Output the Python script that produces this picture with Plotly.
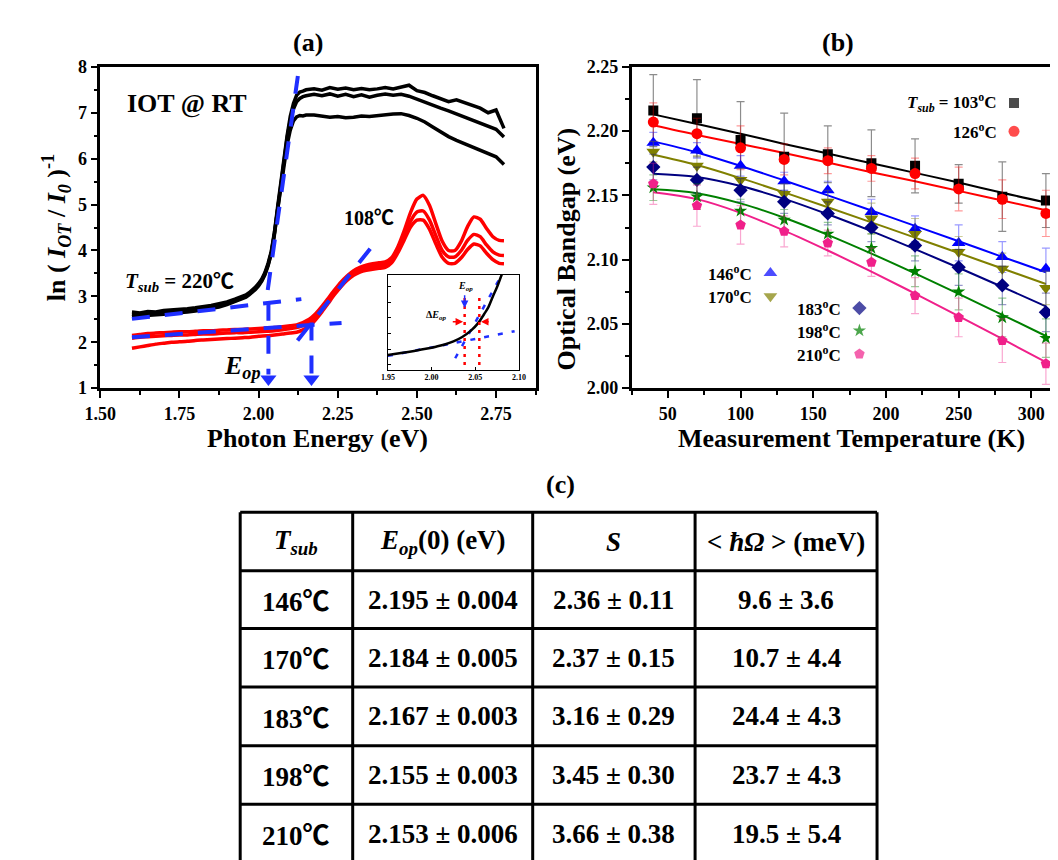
import plotly.graph_objects as go

W, H = 1058, 860
FONT = "Liberation Serif"
DEG = '<span style="font-family:Noto Sans CJK SC">℃</span>'

# ---------------- panel (a): absorbance spectra ----------------
x_black = [1.600, 1.625, 1.650, 1.675, 1.700, 1.725, 1.750, 1.775, 1.800, 1.825, 1.850, 1.875, 1.900, 1.925, 1.950,
           1.96, 1.97, 1.98, 1.99, 2.00, 2.01, 2.02, 2.03, 2.04, 2.05, 2.06, 2.07, 2.08, 2.09, 2.10, 2.11, 2.12, 2.13, 2.14, 2.15,
           2.175, 2.200, 2.225, 2.250, 2.275, 2.300, 2.325, 2.350, 2.375, 2.400, 2.425, 2.450, 2.475, 2.500, 2.525,
           2.550, 2.575, 2.600, 2.625, 2.650, 2.675, 2.700, 2.725, 2.750, 2.775]
black_top = [2.66, 2.64, 2.67, 2.66, 2.69, 2.70, 2.71, 2.73, 2.75, 2.77, 2.80, 2.84, 2.88, 2.94, 3.00,
             3.03, 3.08, 3.13, 3.20, 3.28, 3.38, 3.52, 3.72, 3.98, 4.40, 4.95, 5.50, 6.02, 6.50, 6.92, 7.20, 7.38, 7.45, 7.47, 7.50,
             7.52, 7.49, 7.55, 7.51, 7.54, 7.50, 7.53, 7.50, 7.52, 7.55, 7.52, 7.56, 7.60, 7.48, 7.44,
             7.37, 7.30, 7.24, 7.28, 7.22, 7.17, 7.10, 7.00, 7.06, 6.66]
black_mid = [2.61, 2.60, 2.62, 2.63, 2.64, 2.66, 2.68, 2.69, 2.71, 2.74, 2.77, 2.80, 2.85, 2.90, 2.97,
             3.00, 3.05, 3.10, 3.17, 3.25, 3.35, 3.49, 3.69, 3.95, 4.37, 4.92, 5.47, 5.98, 6.45, 6.84, 7.08, 7.24, 7.31, 7.35, 7.37,
             7.40, 7.37, 7.41, 7.36, 7.40, 7.35, 7.39, 7.34, 7.38, 7.41, 7.38, 7.40, 7.36, 7.29, 7.22,
             7.16, 7.10, 7.04, 6.97, 6.90, 6.83, 6.76, 6.71, 6.64, 6.47]
black_bot = [2.56, 2.57, 2.58, 2.60, 2.61, 2.63, 2.64, 2.66, 2.68, 2.71, 2.74, 2.77, 2.82, 2.88, 2.95,
             2.98, 3.03, 3.08, 3.15, 3.23, 3.33, 3.47, 3.67, 3.93, 4.34, 4.88, 5.40, 5.88, 6.30, 6.62, 6.82, 6.91, 6.94, 6.93, 6.95,
             6.95, 6.93, 6.90, 6.92, 6.89, 6.90, 6.93, 6.92, 6.94, 6.96, 6.97, 6.98, 6.94, 6.88, 6.80,
             6.69, 6.58, 6.48, 6.40, 6.33, 6.25, 6.17, 6.10, 6.04, 5.87]

x_red = [1.600, 1.625, 1.650, 1.675, 1.700, 1.725, 1.750, 1.775, 1.800, 1.825, 1.850, 1.875, 1.900, 1.925, 1.950,
         1.975, 2.000, 2.025, 2.050, 2.075, 2.100,
         2.12, 2.14, 2.16, 2.18, 2.20, 2.22, 2.24, 2.26, 2.28, 2.30, 2.32, 2.34, 2.36, 2.38, 2.40, 2.42, 2.44, 2.46,
         2.48, 2.50, 2.52, 2.54, 2.56, 2.58, 2.60, 2.62, 2.64, 2.66, 2.68, 2.70, 2.72, 2.74, 2.76, 2.775]
red_top = [2.15, 2.17, 2.19, 2.20, 2.21, 2.22, 2.23, 2.23, 2.24, 2.25, 2.25, 2.26, 2.27, 2.28, 2.28, 2.29, 2.30, 2.31, 2.32, 2.34, 2.36,
           2.38, 2.43, 2.50, 2.62, 2.78, 2.96, 3.14, 3.31, 3.45, 3.56, 3.63, 3.68, 3.71, 3.73, 3.75, 3.84, 4.08, 4.43,
           4.83, 5.12, 5.20, 4.98, 4.58, 4.20, 4.00, 4.00, 4.20, 4.52, 4.73, 4.68, 4.48, 4.30, 4.22, 4.21]
red_mid = [2.09, 2.11, 2.12, 2.13, 2.14, 2.15, 2.16, 2.16, 2.17, 2.18, 2.18, 2.19, 2.20, 2.21, 2.21, 2.22, 2.23, 2.24, 2.25, 2.27, 2.30,
           2.32, 2.37, 2.44, 2.57, 2.73, 2.91, 3.09, 3.26, 3.39, 3.50, 3.57, 3.62, 3.65, 3.67, 3.69, 3.79, 4.01, 4.31,
           4.64, 4.84, 4.86, 4.66, 4.32, 4.00, 3.86, 3.86, 4.00, 4.22, 4.35, 4.30, 4.12, 3.97, 3.90, 3.89]
red_bot = [1.87, 1.90, 1.93, 1.96, 1.98, 2.00, 2.01, 2.02, 2.04, 2.05, 2.06, 2.07, 2.08, 2.09, 2.10, 2.11, 2.13, 2.14, 2.16, 2.18, 2.20,
           2.22, 2.27, 2.35, 2.49, 2.66, 2.85, 3.04, 3.21, 3.35, 3.46, 3.53, 3.57, 3.59, 3.61, 3.63, 3.73, 3.95, 4.23,
           4.51, 4.66, 4.66, 4.46, 4.14, 3.85, 3.72, 3.72, 3.84, 4.02, 4.14, 4.10, 3.94, 3.80, 3.72, 3.71]

# tangent / arrow guides (eV, ln units)
guide_x = [[1.60, 2.135], [2.124, 2.028], [2.031, 2.031], [1.60, 2.262], [2.123, 2.355], [2.167, 2.167]]
guide_y = [[2.51, 2.94], [7.80, 3.10], [2.86, 1.30], [2.11, 2.42], [2.04, 4.06], [2.43, 1.30]]
arrow_x = [2.031, 2.167]
arrow_y = [1.20, 1.20]

# inset
inset_x = [1.950, 1.965, 1.980, 1.995, 2.005, 2.015, 2.025, 2.035, 2.045, 2.053, 2.060, 2.065, 2.070, 2.075, 2.080, 2.082]
inset_y = [1.55, 1.75, 1.97, 2.22, 2.42, 2.65, 2.98, 3.45, 4.12, 4.88, 5.85, 6.60, 7.70, 8.75, 9.97, 10.40]
inset_tan_x = [[1.950, 2.095], [2.027, 2.082]]
inset_tan_y = [[1.45, 4.05], [1.20, 10.30]]
inset_eop_x = [2.0378, 2.0546]
inset_ticks = [1.95, 2.00, 2.05, 2.10]

# ---------------- panel (b): bandgap vs temperature ----------------
T_K = [40, 70, 100, 130, 160, 190, 220, 250, 280, 310]
e103 = [2.216, 2.210, 2.193, 2.180, 2.182, 2.175, 2.173, 2.159, 2.149, 2.146]
e126 = [2.207, 2.198, 2.187, 2.178, 2.177, 2.171, 2.167, 2.155, 2.147, 2.136]
e146 = [2.191, 2.185, 2.173, 2.161, 2.154, 2.137, 2.124, 2.113, 2.102, 2.093]
e170 = [2.184, 2.173, 2.162, 2.151, 2.145, 2.132, 2.120, 2.106, 2.093, 2.078]
e183 = [2.172, 2.162, 2.154, 2.145, 2.136, 2.125, 2.111, 2.094, 2.080, 2.059]
e198 = [2.156, 2.149, 2.138, 2.131, 2.120, 2.109, 2.091, 2.075, 2.055, 2.039]
e210 = [2.159, 2.142, 2.127, 2.122, 2.113, 2.098, 2.072, 2.055, 2.037, 2.019]
err103 = [0.028, 0.030, 0.030, 0.034, 0.022, 0.026, 0.021, 0.015, 0.027, 0.021]
err126 = [0.015, 0.012, 0.017, 0.012, 0.010, 0.010, 0.012, 0.017, 0.015, 0.018]
err146 = [0.008, 0.006, 0.008, 0.007, 0.007, 0.010, 0.010, 0.014, 0.012, 0.016]
err170 = [0.008, 0.008, 0.009, 0.008, 0.009, 0.012, 0.012, 0.012, 0.012, 0.013]
err183 = [0.010, 0.010, 0.009, 0.009, 0.009, 0.011, 0.012, 0.014, 0.015, 0.015]
err198 = [0.010, 0.010, 0.009, 0.008, 0.009, 0.011, 0.012, 0.014, 0.015, 0.015]
err210 = [0.016, 0.016, 0.015, 0.012, 0.010, 0.011, 0.014, 0.015, 0.017, 0.016]
fit103 = [2.2130, 2.2055, 2.1980, 2.1900, 2.1825, 2.1750, 2.1675, 2.1600, 2.1520, 2.1445]
fit126 = [2.2045, 2.1970, 2.1900, 2.1830, 2.1755, 2.1680, 2.1610, 2.1535, 2.1460, 2.1385]
fit146 = [2.1920, 2.1834, 2.1729, 2.1616, 2.1500, 2.1382, 2.1263, 2.1143, 2.1022, 2.0902]
fit170 = [2.1816, 2.1736, 2.1634, 2.1523, 2.1408, 2.1290, 2.1171, 2.1052, 2.0931, 2.0811]
fit183 = [2.1669, 2.1643, 2.1573, 2.1473, 2.1353, 2.1222, 2.1082, 2.0937, 2.0788, 2.0637]
fit198 = [2.1548, 2.1517, 2.1438, 2.1326, 2.1193, 2.1047, 2.0893, 2.0734, 2.0571, 2.0406]
fit210 = [2.1525, 2.1471, 2.1364, 2.1226, 2.1071, 2.0907, 2.0736, 2.0561, 2.0383, 2.0202]

series_b = [
    ("103", e103, err103, fit103, "#000000", "rgba(0,0,0,0.45)", "square", 10),
    ("126", e126, err126, fit126, "#ff0000", "rgba(255,0,0,0.40)", "circle", 11),
    ("146", e146, err146, fit146, "#0000ff", "rgba(0,0,255,0.40)", "triangle-up", 12),
    ("170", e170, err170, fit170, "#808000", "rgba(128,128,0,0.40)", "triangle-down", 12),
    ("183", e183, err183, fit183, "#000080", "rgba(0,0,128,0.40)", "diamond", 11),
    ("198", e198, err198, fit198, "#008000", "rgba(0,128,0,0.40)", "star", 10),
    ("210", e210, err210, fit210, "#f0208a", "rgba(240,32,138,0.40)", "pentagon", 11),
]

# ---------------- panel (c): fit parameters ----------------
tsub_rows = ["146", "170", "183", "198", "210"]
eop0_val = [2.195, 2.184, 2.167, 2.155, 2.153]
eop0_err = [0.004, 0.005, 0.003, 0.003, 0.006]
s_val = [2.36, 2.37, 3.16, 3.45, 3.66]
s_err = [0.11, 0.15, 0.29, 0.30, 0.38]
hw_val = [9.6, 10.7, 24.4, 23.7, 19.5]
hw_err = [3.6, 4.4, 4.3, 4.3, 5.4]
table_header = ["<i>T</i><sub><i>sub</i></sub>", "<i>E</i><sub><i>op</i></sub>(0) (eV)", "<i>S</i>",
                "&lt; <i>ħΩ</i> &gt; (meV)"]
col_edges = [221, 336, 520, 686, 872]
row_edges = [506, 566, 625, 685, 745, 805, 865]


def PX(x):
    return x / W


def PY(y):
    return 1 - y / H


fig = go.Figure()

# (a) spectra
for yb in (black_top, black_mid, black_bot):
    fig.add_trace(go.Scatter(x=x_black, y=yb, mode="lines", line=dict(color="black", width=3.5),
                             xaxis="x", yaxis="y", showlegend=False, hoverinfo="skip"))
for yr in (red_top, red_mid, red_bot):
    fig.add_trace(go.Scatter(x=x_red, y=yr, mode="lines", line=dict(color="#ff0000", width=3.5, shape="spline", smoothing=0.6),
                             xaxis="x", yaxis="y", showlegend=False, hoverinfo="skip"))
BLUE = "#1f2fff"
for gx, gy in zip(guide_x, guide_y):
    fig.add_trace(go.Scatter(x=gx, y=gy, mode="lines", line=dict(color=BLUE, width=4, dash="18px,15px"),
                             xaxis="x", yaxis="y", showlegend=False, hoverinfo="skip"))
fig.add_trace(go.Scatter(x=arrow_x, y=arrow_y, mode="markers", marker=dict(symbol="triangle-down", size=14, color=BLUE),
                         xaxis="x", yaxis="y", showlegend=False, cliponaxis=False, hoverinfo="skip"))

# inset
for gx, gy in zip(inset_tan_x, inset_tan_y):
    fig.add_trace(go.Scatter(x=gx, y=gy, mode="lines", line=dict(color=BLUE, width=2.5, dash="5px,9px"),
                             xaxis="x3", yaxis="y3", showlegend=False, hoverinfo="skip"))
fig.add_trace(go.Scatter(x=inset_x, y=inset_y, mode="lines", line=dict(color="black", width=2.5, shape="spline"),
                         xaxis="x3", yaxis="y3", showlegend=False, hoverinfo="skip"))
for ex in inset_eop_x:
    fig.add_trace(go.Scatter(x=[ex, ex], y=[0.5, 8.1], mode="lines", line=dict(color="#ff0000", width=2.5, dash="3px,5px"),
                             xaxis="x3", yaxis="y3", showlegend=False, hoverinfo="skip"))

# (b) fits then points
for name, ev, er, ft, col, ecol, sym, sz in series_b:
    fig.add_trace(go.Scatter(x=T_K, y=ft, mode="lines", line=dict(color=col, width=2, shape="spline"),
                             xaxis="x2", yaxis="y2", showlegend=False, hoverinfo="skip"))
for name, ev, er, ft, col, ecol, sym, sz in series_b:
    fig.add_trace(go.Scatter(x=T_K, y=ev, mode="markers", name=name,
                             marker=dict(symbol=sym, size=sz, color=col, line=dict(width=0)),
                             error_y=dict(type="data", array=er, visible=True, color=ecol, thickness=1.2, width=4),
                             xaxis="x2", yaxis="y2", showlegend=False))

# legend keys for (b) drawn on an invisible full-page overlay axis (pixel coordinates)
key_x = [1012, 1012, 763, 763, 854, 854, 854]
key_y = [87, 116, 261, 285, 297, 320, 344]
fig.add_trace(go.Scatter(x=key_x, y=key_y, mode="markers",
                         marker=dict(symbol=[s[6] for s in series_b], size=[s[7] for s in series_b],
                                     color=[s[4] for s in series_b], line=dict(width=0)),
                         xaxis="x4", yaxis="y4", showlegend=False, hoverinfo="skip", cliponaxis=False))

tickfont = dict(family=FONT, size=18, color="black", weight="bold")
base = dict(showline=True, linecolor="black", linewidth=2.5, ticks="outside", tickcolor="black",
            tickwidth=2, ticklen=7, showgrid=False, zeroline=False, tickfont=tickfont)
minor_a_x = dict(tick0=1.5, dtick=0.125, ticks="outside", ticklen=4, tickwidth=1.5, tickcolor="black", showgrid=False)

y_dom = [PY(379), PY(50)]
layout = dict(
    width=W, height=H, margin=dict(l=0, r=0, t=0, b=0),
    paper_bgcolor="white", plot_bgcolor="rgba(0,0,0,0)",
    showlegend=False,
    xaxis=dict(base, domain=[PX(78), PX(523)], range=[1.5, 2.875], tick0=1.5, dtick=0.25, tickformat=".2f",
               mirror=True, anchor="y", minor=minor_a_x),
    yaxis=dict(base, domain=y_dom, range=[1, 8], tick0=1, dtick=1, mirror=True, anchor="x",
               minor=dict(tick0=1, dtick=0.5, ticks="outside", ticklen=4, tickwidth=1.5, tickcolor="black", showgrid=False)),
    xaxis2=dict(base, domain=[PX(621), 1.0], range=[25, 319], tick0=50, dtick=50, mirror=True, anchor="y2",
                minor=dict(tick0=25, dtick=25, ticks="outside", ticklen=4, tickwidth=1.5, tickcolor="black", showgrid=False)),
    yaxis2=dict(base, domain=y_dom, range=[2.0, 2.25], tick0=2.0, dtick=0.05, tickformat=".2f", mirror=False, anchor="x2",
                minor=dict(tick0=2.0, dtick=0.025, ticks="outside", ticklen=4, tickwidth=1.5, tickcolor="black", showgrid=False)),
    xaxis3=dict(domain=[PX(372), PX(506)], range=[1.95, 2.10], tickvals=inset_ticks,
                ticktext=["%.2f" % v for v in inset_ticks], ticks="inside", ticklen=3, tickwidth=1, tickcolor="black",
                showline=True, linecolor="black", linewidth=1, mirror=True, showgrid=False, zeroline=False,
                tickfont=dict(family=FONT, size=8, color="black", weight="bold"), anchor="y3"),
    yaxis3=dict(domain=[PY(360), PY(263)], range=[0, 10], tickvals=[0.5, 2.15, 3.8, 5.45, 7.1, 8.75],
                showticklabels=False, ticks="inside", ticklen=3, tickwidth=1, tickcolor="black",
                showline=True, linecolor="black", linewidth=1, mirror=True, showgrid=False, zeroline=False, anchor="x3"),
    xaxis4=dict(domain=[0, 1], range=[0, W], visible=False, anchor="y4"),
    yaxis4=dict(domain=[0, 1], range=[H, 0], visible=False, anchor="x4"),
)
fig.update_layout(**layout)


def ann(text, x, y, size, xanchor="center", yanchor="middle", angle=0, color="black"):
    return dict(text=text, x=PX(x), y=PY(y), xref="paper", yref="paper", showarrow=False,
                xanchor=xanchor, yanchor=yanchor, textangle=angle,
                font=dict(family=FONT, size=size, color=color, weight="bold"))


anns = [
    ann("(a)", 290, 25, 26), ann("(b)", 832, 25, 26), ann("(c)", 548, 478, 26),
    ann("Photon Energy (eV)", 300, 430, 26),
    ann("Measurement Temperature (K)", 846, 430, 26),
    ann("ln ( <i>I</i><sub><i>OT</i></sub> / <i>I</i><sub><i>0</i></sub> )<sup>-1</sup>", 33, 214, 26, angle=-90),
    ann("Optical Bandgap (eV)", 555, 236, 26, angle=-90),
    ann("IOT @ RT", 167, 88, 26),
    ann("<i>T</i><sub><i>sub</i></sub> = 220" + DEG, 101, 268, 21, xanchor="left"),
    ann("108" + DEG, 353, 203, 20),
    ann("<i>E</i><sub><i>op</i></sub>", 223, 357, 26),
    ann("<i>E</i><sub><i>op</i></sub>", 451, 275, 10),
    ann("Δ<i>E</i><sub><i>op</i></sub>", 421, 305, 10),
    ann("<i>T</i><sub><i>sub</i></sub> = 103<sup>o</sup>C", 997, 87, 17, xanchor="right"),
    ann("126<sup>o</sup>C", 997, 116, 17, xanchor="right"),
    ann("146<sup>o</sup>C", 746, 261, 17, xanchor="right"),
    ann("170<sup>o</sup>C", 746, 285, 17, xanchor="right"),
    ann("183<sup>o</sup>C", 837, 297, 17, xanchor="right"),
    ann("198<sup>o</sup>C", 837, 320, 17, xanchor="right"),
    ann("210<sup>o</sup>C", 837, 344, 17, xanchor="right"),
]
# inset arrows
for tip, tail, col in [((2.036, 5.05), (2.0225, 5.05), "#ff0000"),
                       ((2.0565, 5.05), (2.067, 5.05), "#ff0000"),
                       ((2.0378, 6.5), (2.0378, 8.0), BLUE)]:
    anns.append(dict(x=tip[0], y=tip[1], ax=tail[0], ay=tail[1], xref="x3", yref="y3", axref="x3", ayref="y3",
                     showarrow=True, arrowhead=2, arrowsize=1, arrowwidth=1.5, arrowcolor=col, text=""))

# table (c)
shapes = []
for xe in col_edges:
    shapes.append(dict(type="line", xref="paper", yref="paper", x0=PX(xe), x1=PX(xe), y0=PY(row_edges[0]), y1=PY(row_edges[-1]),
                       line=dict(color="black", width=3)))
for ye in row_edges:
    shapes.append(dict(type="line", xref="paper", yref="paper", x0=PX(col_edges[0]), x1=PX(col_edges[-1]), y0=PY(ye), y1=PY(ye),
                       line=dict(color="black", width=3)))
cells = [table_header]
for i in range(len(tsub_rows)):
    cells.append([tsub_rows[i] + DEG,
                  "%.3f ± %.3f" % (eop0_val[i], eop0_err[i]),
                  "%.2f ± %.2f" % (s_val[i], s_err[i]),
                  "%.1f ± %.1f" % (hw_val[i], hw_err[i])])
for r, row in enumerate(cells):
    yc = (row_edges[r] + row_edges[r + 1]) / 2
    for c, txt in enumerate(row):
        xc = (col_edges[c] + col_edges[c + 1]) / 2
        anns.append(ann(txt, xc, yc, 27))

fig.update_layout(annotations=anns, shapes=shapes)
fig.write_html("out.html")
